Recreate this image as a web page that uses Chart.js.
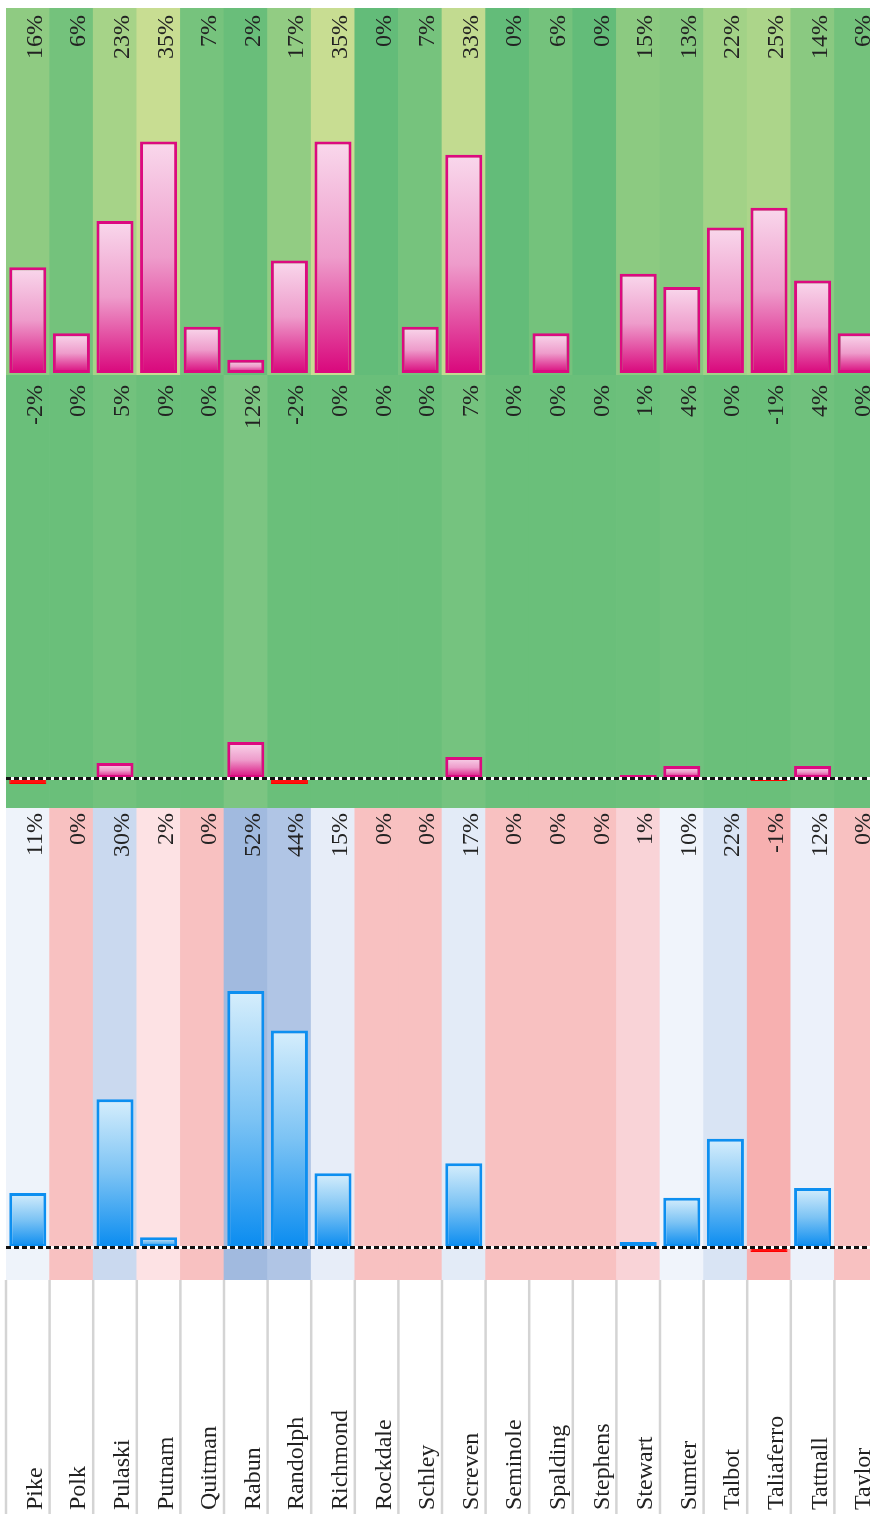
<!DOCTYPE html>
<html>
<head>
<meta charset="utf-8">
<script src="https://cdn.jsdelivr.net/npm/chart.js@4.4.1/dist/chart.umd.min.js"></script>
<style>
  html, body { margin: 0; padding: 0; background: #fff; overflow: hidden; width: 870px; height: 1514px; }
  .panel { position: absolute; left: 0; width: 884px; }
  #wrapTop { top: 8px; height: 367px; }
  #wrapMid { top: 375px; height: 433px; }
  #wrapBot { top: 808px; height: 706px; }
</style>
</head>
<body>
<div class="panel" id="wrapTop"><canvas id="chartTop"></canvas></div>
<div class="panel" id="wrapMid"><canvas id="chartMid"></canvas></div>
<div class="panel" id="wrapBot"><canvas id="chartBot"></canvas></div>
<script>
const counties = [
  "Pike", "Polk", "Pulaski", "Putnam", "Quitman", "Rabun", "Randolph", "Richmond", "Rockdale", "Schley",
  "Screven", "Seminole", "Spalding", "Stephens", "Stewart", "Sumter", "Talbot", "Taliaferro", "Tattnall", "Taylor"
];
const topValues = [16, 6, 23, 35, 7, 2, 17, 35, 0, 7, 33, 0, 6, 0, 15, 13, 22, 25, 14, 6];
const midValues = [-2, 0, 5, 0.4, 0, 12, -2, 0, 0, 0, 7, 0, 0, 0, 1, 4, 0, -1, 4, 0];
const botValues = [11, 0, 30, 2, 0, 52, 44, 15, 0, 0, 17, 0, 0, 0, 1, 10, 22, -1, 12, 0];

// colour ramps for the cell backgrounds
const TOP_STOPS = [[0, "#63bc79"], [16, "#8fcb82"], [25, "#acd58a"], [35, "#c8dd92"]];
const MID_STOPS = [[-10, "#6abf7a"], [0, "#6abf7a"], [12, "#7cc582"], [40, "#a5d389"]];
const BOT_STOPS = [
  [-2, "#f6a3a3"], [-1, "#f7b0b0"], [0, "#f8c1c1"], [1, "#f9d3d7"], [2, "#fde2e4"],
  [6, "#f6f3f9"], [10, "#f0f4fb"], [30, "#cad9ef"], [52, "#a1badf"]
];

function hexToRgb(h) {
  const n = parseInt(h.slice(1), 16);
  return [(n >> 16) & 255, (n >> 8) & 255, n & 255];
}

function rampColor(stops, v) {
  if (v <= stops[0][0]) return stops[0][1];
  for (let i = 1; i < stops.length; i++) {
    if (v <= stops[i][0]) {
      const [v0, c0] = stops[i - 1];
      const [v1, c1] = stops[i];
      const t = (v - v0) / (v1 - v0);
      const a = hexToRgb(c0), b = hexToRgb(c1);
      const m = a.map((x, k) => Math.round(x + (b[k] - x) * t));
      return "rgb(" + m.join(",") + ")";
    }
  }
  return stops[stops.length - 1][1];
}

function barFill(light, mid, dark) {
  return (c) => {
    const chart = c.chart;
    const v = c.raw;
    if (v < 0) return "#ff1010";
    if (!chart.chartArea) return dark;
    const ys = chart.scales.y;
    const top = ys.getPixelForValue(v);
    const base = ys.getPixelForValue(0);
    if (!isFinite(top) || Math.abs(base - top) < 1) return dark;
    const g = chart.ctx.createLinearGradient(0, top, 0, base);
    g.addColorStop(0, light);
    g.addColorStop(0.5, mid);
    g.addColorStop(1, dark);
    return g;
  };
}

const cellLabels = {
  id: "cellLabels",
  afterDatasetsDraw(chart, args, opts) {
    const ctx = chart.ctx;
    const xs = chart.scales.x;
    const ys = chart.scales.y;
    const area = chart.chartArea;

    if (opts.zeroLine) {
      const y0 = Math.round(ys.getPixelForValue(0)) + 0.5;
      ctx.save();
      ctx.lineWidth = 3;
      ctx.strokeStyle = "#ffffff";
      ctx.beginPath();
      ctx.moveTo(area.left, y0);
      ctx.lineTo(area.right, y0);
      ctx.stroke();
      ctx.setLineDash([5, 3]);
      ctx.strokeStyle = "#111111";
      ctx.stroke();
      ctx.restore();
    }

    ctx.save();
    ctx.font = "24px 'Liberation Serif', 'DejaVu Serif', serif";
    ctx.fillStyle = "#222";
    opts.values.forEach((v, i) => {
      ctx.save();
      ctx.translate(xs.getPixelForValue(i) + 14, area.top + opts.top);
      ctx.rotate(-Math.PI / 2);
      ctx.textAlign = "right";
      ctx.textBaseline = "alphabetic";
      ctx.fillText(String(Math.round(v)) + "%", 0, 0);
      ctx.restore();
    });
    ctx.restore();

    if (opts.names) {
      const colW = (area.right - area.left) / counties.length;
      ctx.save();
      ctx.strokeStyle = "#d4d4d4";
      ctx.lineWidth = 2.5;
      for (let i = 0; i <= counties.length; i++) {
        const gx = area.left + i * colW;
        ctx.beginPath();
        ctx.moveTo(gx, area.bottom);
        ctx.lineTo(gx, chart.height);
        ctx.stroke();
      }
      ctx.font = "24px 'Liberation Serif', 'DejaVu Serif', serif";
      ctx.fillStyle = "#222";
      counties.forEach((name, i) => {
        ctx.save();
        ctx.translate(xs.getPixelForValue(i) + 14, chart.height - 4);
        ctx.rotate(-Math.PI / 2);
        ctx.textAlign = "left";
        ctx.fillText(name, 0, 0);
        ctx.restore();
      });
      ctx.restore();
    }
  }
};

function makePanel(id, values, min, max, stops, colors, labelOpts, padBottom) {
  const isNeg = (v) => v < 0;
  return new Chart(document.getElementById(id), {
    type: "bar",
    data: {
      labels: counties,
      datasets: [
        {
          data: values.map((v) => (v === 0 ? null : v)),
          backgroundColor: barFill(colors.light, colors.mid, colors.dark),
          borderColor: (c) => (isNeg(c.raw) ? "#ff0000" : colors.border),
          borderWidth: (c) => (isNeg(c.raw) ? 1 : 3),
          borderSkipped: false,
          barPercentage: 0.85,
          categoryPercentage: 1,
          grouped: false,
          order: 1
        },
        {
          data: values.map(() => [min, max]),
          backgroundColor: values.map((v) => rampColor(stops, v)),
          borderWidth: 0,
          barPercentage: 1,
          categoryPercentage: 1,
          grouped: false,
          order: 2
        }
      ]
    },
    options: {
      responsive: true,
      maintainAspectRatio: false,
      animation: false,
      layout: { padding: { left: 6, right: 6, top: 0, bottom: padBottom || 0 } },
      scales: {
        x: { display: false },
        y: { display: false, min: min, max: max }
      },
      plugins: {
        legend: { display: false },
        tooltip: { enabled: false },
        cellLabels: labelOpts
      }
    },
    plugins: [cellLabels]
  });
}

const pink = { light: "#f9d8ec", mid: "#ee9ccb", dark: "#d9077c", border: "#dc0a80" };
const blue = { light: "#d6eefc", mid: "#7cc3f4", dark: "#0a8cf0", border: "#0d8ff0" };

makePanel("chartTop", topValues, -0.3, 55.2, TOP_STOPS, pink, { values: topValues, top: 7, zeroLine: false });
makePanel("chartMid", midValues, -10, 134.3, MID_STOPS, pink, { values: midValues, top: 10, zeroLine: true });
makePanel("chartBot", botValues, -6.7, 89.2, BOT_STOPS, blue, { values: botValues, top: 5, zeroLine: true, names: true }, 234);
</script>
</body>
</html>
